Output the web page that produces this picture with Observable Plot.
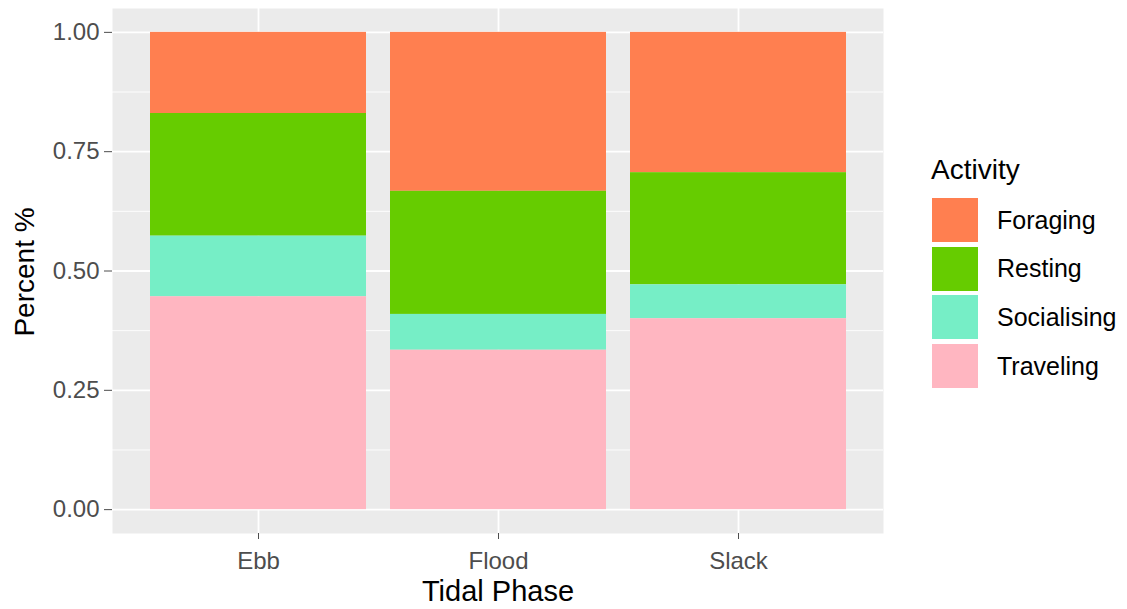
<!DOCTYPE html>
<html>
<head>
<meta charset="utf-8">
<script src="https://cdn.jsdelivr.net/npm/d3@7"></script>
<script src="https://cdn.jsdelivr.net/npm/@observablehq/plot@0.6"></script>
<style>
  body { margin: 0; background: #fff; }
  #wrap { position: relative; width: 1127px; height: 609px; font-family: "Liberation Sans", Arial, sans-serif; }
  #chart { position: absolute; left: 0; top: 0; }
  .t { position: absolute; white-space: nowrap; line-height: 1; }
  .key { display: flex; align-items: center; height: 44px; margin-bottom: 4.7px; }
  .sw { width: 46px; height: 44px; margin-right: 19px; }
</style>
</head>
<body>
<div id="wrap">
  <div id="chart"></div>
  <div class="t" id="ytitle" style="left:25px;top:272px;font-size:28px;color:#000;transform:translate(-50%,-50%) rotate(-90deg);">Percent %</div>
  <div class="t" id="xtitle" style="left:498px;top:577px;font-size:29px;color:#000;transform:translateX(-50%);">Tidal Phase</div>
  <div class="t" style="left:931px;top:156px;font-size:28px;color:#000;">Activity</div>
  <div id="legend" style="position:absolute;left:932px;top:198px;"></div>
</div>
<script>
const phases = ["Ebb", "Flood", "Slack"];
const activities = ["Foraging", "Resting", "Socialising", "Traveling"];
const stackOrder = ["Traveling", "Socialising", "Resting", "Foraging"];
const colors = ["#FF7F50", "#66CC00", "#76EEC6", "#FFB6C1"];
const foraging = [0.170, 0.333, 0.294];
const resting = [0.257, 0.258, 0.235];
const socialising = [0.127, 0.075, 0.071];
const traveling = [0.446, 0.334, 0.400];
const majorTicks = [0, 0.25, 0.5, 0.75, 1];
const minorTicks = [0.125, 0.375, 0.625, 0.875];

const series = {Foraging: foraging, Resting: resting, Socialising: socialising, Traveling: traveling};
const rows = [];
phases.forEach((p, i) => activities.forEach(a => rows.push({phase: p, activity: a, value: series[a][i]})));

const chart = Plot.plot({
  width: 1127,
  height: 609,
  marginLeft: 112,
  marginRight: 244,
  marginTop: 8,
  marginBottom: 76,
  style: {fontFamily: "Liberation Sans, Arial, sans-serif", background: "transparent", overflow: "visible"},
  x: {type: "band", domain: phases, paddingInner: 0.1, paddingOuter: 0.15, align: 0.5, label: null},
  y: {domain: [-0.05, 1.05], label: null},
  color: {domain: activities, range: colors},
  marks: [
    Plot.frame({fill: "#EBEBEB", stroke: "none"}),
    Plot.ruleY(minorTicks, {stroke: "#fff", strokeWidth: 0.9}),
    Plot.ruleY(majorTicks, {stroke: "#fff", strokeWidth: 1.8}),
    Plot.ruleX(phases, {x: d => d, stroke: "#fff", strokeWidth: 1.8}),
    Plot.barY(rows, {x: "phase", y: "value", fill: "activity", order: stackOrder, inset: 0}),
    Plot.axisY({ticks: majorTicks, tickFormat: d3.format(".2f"), tickSize: 8, tickPadding: 5, fontSize: 24, color: "#4D4D4D", label: null}),
    Plot.axisX({tickSize: 6, tickPadding: 12, fontSize: 24, color: "#4D4D4D", label: null})
  ]
});
document.getElementById("chart").appendChild(chart);

const legend = document.getElementById("legend");
activities.forEach((a, i) => {
  const row = document.createElement("div");
  row.className = "key";
  const sw = document.createElement("div");
  sw.className = "sw";
  sw.style.background = colors[i];
  const lab = document.createElement("span");
  lab.textContent = a;
  lab.style.fontSize = "25px";
  lab.style.color = "#000";
  row.appendChild(sw);
  row.appendChild(lab);
  legend.appendChild(row);
});
</script>
</body>
</html>
